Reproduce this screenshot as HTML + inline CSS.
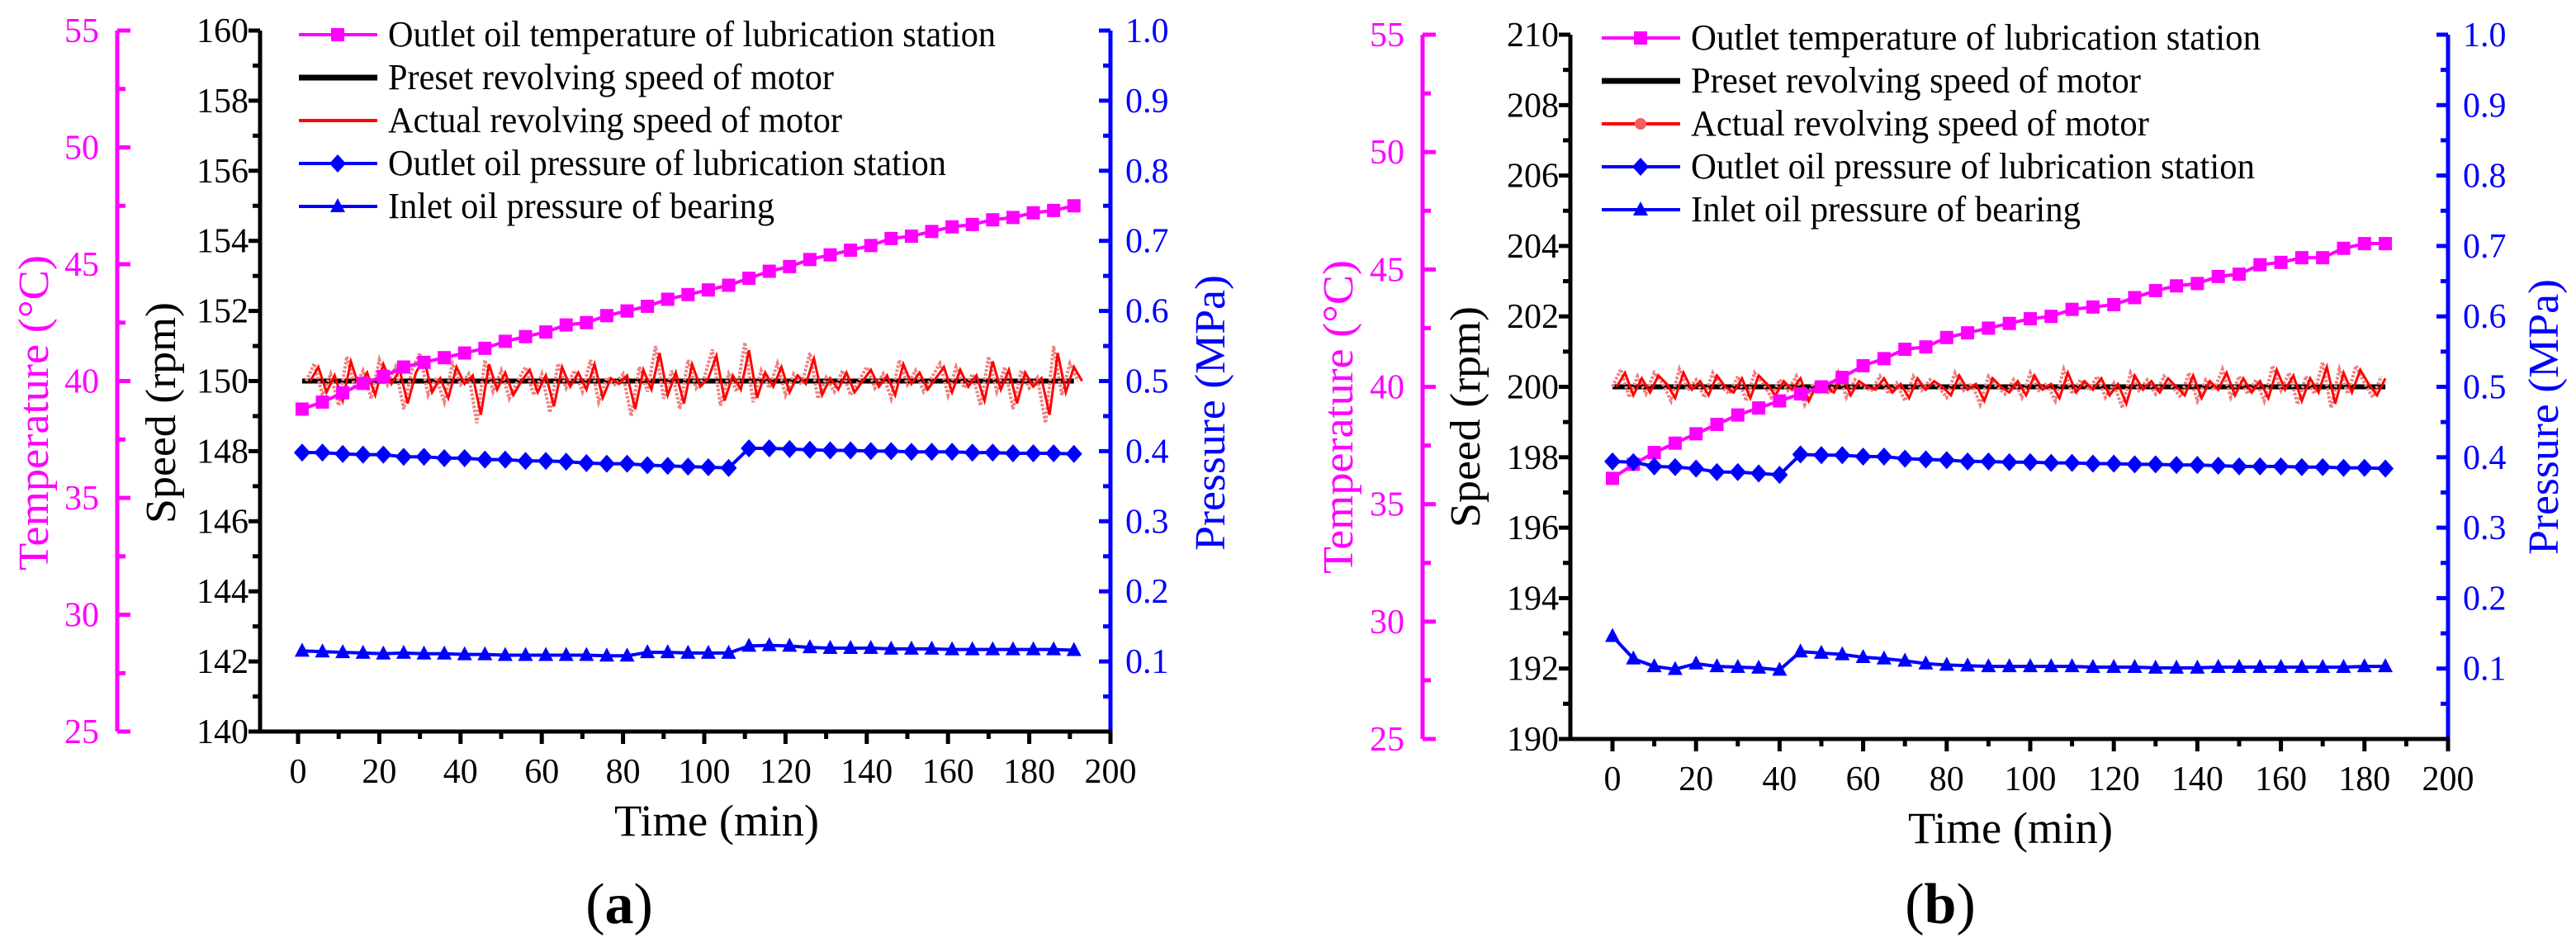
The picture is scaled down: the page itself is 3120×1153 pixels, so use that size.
<!DOCTYPE html>
<html><head><meta charset="utf-8"><style>
html,body{margin:0;padding:0;background:#fff;}
svg, svg text{font-family:"Liberation Serif","Times New Roman",serif;}
</style></head><body>
<svg id="chart" width="3120" height="1148" viewBox="0 0 3120 1148" xmlns="http://www.w3.org/2000/svg" font-family="Liberation Serif, serif"></svg>
<script>
// ---------- Panel (a) data ----------
const timesA = [1,6,11,16,21,26,31,36,41,46,51,56,61,66,71,76,81,86,91,96,101,106,111,116,121,126,131,136,141,146,151,156,161,166,171,176,181,186,191];
const tempA = [38.8,39.1,39.5,39.9,40.2,40.6,40.8,41.0,41.2,41.4,41.7,41.9,42.1,42.4,42.5,42.8,43.0,43.2,43.5,43.7,43.9,44.1,44.4,44.7,44.9,45.2,45.4,45.6,45.8,46.1,46.2,46.4,46.6,46.7,46.9,47.0,47.2,47.3,47.5];
const outA = [0.398,0.398,0.396,0.395,0.395,0.392,0.392,0.390,0.390,0.388,0.388,0.386,0.386,0.385,0.383,0.382,0.382,0.380,0.379,0.378,0.377,0.376,0.404,0.404,0.403,0.402,0.401,0.401,0.400,0.400,0.399,0.399,0.399,0.398,0.398,0.397,0.397,0.397,0.396];
const inA = [0.115,0.114,0.113,0.112,0.111,0.112,0.111,0.111,0.110,0.110,0.109,0.109,0.109,0.109,0.109,0.108,0.108,0.113,0.113,0.112,0.112,0.112,0.122,0.123,0.122,0.120,0.119,0.119,0.119,0.118,0.118,0.118,0.117,0.117,0.117,0.117,0.117,0.117,0.116];
const actA = [150.0,150.5,149.6,150.2,149.3,150.7,149.8,150.3,149.5,150.6,149.9,150.4,149.2,150.3,150.8,149.6,150.1,149.4,150.5,149.9,150.2,148.8,150.6,149.7,150.3,149.5,150.0,150.4,149.6,150.2,149.1,150.5,149.8,150.3,149.7,150.6,149.4,150.1,149.9,150.2,149.0,150.4,149.7,151.0,149.5,150.3,149.2,150.6,149.8,150.1,150.9,149.3,150.2,149.7,151.1,149.4,150.3,149.8,150.5,149.6,150.2,149.9,150.8,149.5,150.1,149.7,150.3,149.6,150.0,150.4,149.8,150.2,149.5,150.6,149.9,150.3,149.7,150.1,150.5,149.6,150.4,149.8,150.2,149.3,150.7,149.7,150.4,149.2,150.3,149.8,150.1,148.8,151.0,149.6,150.5,150.0];
// ---------- Panel (b) data ----------
const timesB = [0,5,10,15,20,25,30,35,40,45,50,55,60,65,70,75,80,85,90,95,100,105,110,115,120,125,130,135,140,145,150,155,160,165,170,175,180,185];
const tempB = [36.1,36.7,37.2,37.6,38.0,38.4,38.8,39.1,39.4,39.7,40.0,40.4,40.9,41.2,41.6,41.7,42.1,42.3,42.5,42.7,42.9,43.0,43.3,43.4,43.5,43.8,44.1,44.3,44.4,44.7,44.8,45.2,45.3,45.5,45.5,45.9,46.1,46.1];
const outB = [0.394,0.393,0.387,0.386,0.384,0.379,0.379,0.377,0.375,0.404,0.403,0.403,0.401,0.401,0.398,0.397,0.396,0.394,0.394,0.393,0.393,0.392,0.392,0.391,0.391,0.390,0.390,0.389,0.389,0.388,0.387,0.387,0.387,0.386,0.386,0.385,0.385,0.384];
const inB = [0.146,0.114,0.103,0.099,0.107,0.103,0.102,0.101,0.098,0.124,0.122,0.120,0.116,0.114,0.111,0.107,0.105,0.104,0.103,0.103,0.103,0.103,0.103,0.102,0.102,0.102,0.101,0.101,0.101,0.102,0.102,0.102,0.102,0.102,0.102,0.102,0.103,0.103];
const actB = [200.0,200.5,199.7,200.3,199.8,200.4,200.1,199.6,200.5,199.9,200.2,199.7,200.4,200.0,199.8,200.3,199.6,200.4,200.1,199.7,200.2,199.9,200.3,199.5,200.1,200.0,199.8,200.4,199.7,200.2,200.0,199.9,200.3,199.8,200.1,199.6,200.3,199.9,200.2,200.0,199.7,200.4,199.9,200.1,199.5,200.3,200.0,199.8,200.2,199.7,200.4,199.9,200.1,199.6,200.5,199.8,200.2,199.9,200.3,199.7,200.1,199.4,200.4,199.9,200.2,199.8,200.3,200.0,199.7,200.4,199.6,200.2,199.9,200.5,199.7,200.3,199.8,200.2,199.6,200.6,199.9,200.4,199.5,200.3,199.8,200.7,199.4,200.5,199.8,200.6,200.1,199.7,200.3];

const NS = "http://www.w3.org/2000/svg";
const svg = document.getElementById('chart');
const FONT = 'Liberation Serif, Times New Roman, serif';
function mk(tag, attrs, parent){ const e=document.createElementNS(NS,tag); for(const k in attrs) e.setAttribute(k,attrs[k]); (parent||svg).appendChild(e); return e; }
function txt(s, attrs, parent){ attrs['font-family']=FONT; const e=mk('text',attrs,parent); e.textContent=s; return e; }
const PINK="#ff00ff", BLUE="#0000ff", RED="#ff0000";

function panel(c){
  const g = mk('g',{});
  
  
  const X = t => c.x0 + (t/200)*(c.xR - c.x0);
  const YS = v => c.bot - (v - c.smin)/(c.smax - c.smin)*(c.bot - c.top);
  const YT = v => c.bot - (v - 25)/30*(c.bot - c.top);
  const YP = v => c.bot - v*(c.bot - c.top);
  const lw = 5;
  const ta = mk('g',{},g);
   
  mk('line',{x1:c.tx,y1:c.top,x2:c.tx,y2:c.bot,stroke:PINK,'stroke-width':lw},ta);
  for(let v=25; v<=55; v+=2.5){ const maj = v%5===0; mk('line',{x1:c.tx,y1:YT(v),x2:c.tx+(maj?16:10),y2:YT(v),stroke:PINK,'stroke-width':lw},ta);
    if(maj) txt(String(v),{x:c.tx-22,y:YT(v)+14,'text-anchor':'end','font-size':42,fill:PINK},ta); }
  const sa = mk('g',{},g);
   
  mk('line',{x1:c.sx,y1:c.top,x2:c.sx,y2:c.bot+2,stroke:'#000','stroke-width':lw},sa);
  for(let v=c.smin; v<=c.smax; v+=1){ const maj=(v-c.smin)%2===0; mk('line',{x1:c.sx,y1:YS(v),x2:c.sx-(maj?14:9),y2:YS(v),stroke:'#000','stroke-width':lw},sa);
    if(maj) txt(String(v),{x:c.sx-14,y:YS(v)+14,'text-anchor':'end','font-size':42,fill:'#000'},sa); }
  const pa = mk('g',{},g);
   
  mk('line',{x1:c.xR,y1:c.top,x2:c.xR,y2:c.bot+2,stroke:BLUE,'stroke-width':lw},pa);
  for(let i=1;i<=20;i++){ const v=i*0.05; const maj=i%2===0; mk('line',{x1:c.xR,y1:YP(v),x2:c.xR-(maj?14:9),y2:YP(v),stroke:BLUE,'stroke-width':lw},pa);
    if(maj) txt((v).toFixed(1),{x:c.xR+18,y:YP(v)+14,'font-size':42,fill:BLUE},pa); }
  const xa = mk('g',{},g);
   
  mk('line',{x1:c.sx-2,y1:c.bot,x2:c.xR+2,y2:c.bot,stroke:'#000','stroke-width':lw},xa);
  for(let t=0;t<=200;t+=10){ const maj=t%20===0; mk('line',{x1:X(t),y1:c.bot,x2:X(t),y2:c.bot+(maj?15:9),stroke:'#000','stroke-width':lw},xa);
    if(maj) txt(String(t),{x:X(t),y:c.bot+62,'text-anchor':'middle','font-size':42},xa); }
  const tt = txt('Time (min)',{x:c.timeX,y:c.bot+126,'text-anchor':'middle','font-size':54,textLength:248,lengthAdjust:'spacingAndGlyphs'},g);
   
  const t1 = txt('Temperature (°C)',{x:0,y:0,'text-anchor':'middle','font-size':52,fill:PINK,textLength:c.tempLen,lengthAdjust:'spacingAndGlyphs',transform:`translate(${c.tempTX},${c.titleY}) rotate(-90)`},g);
   
  const t2 = txt('Speed (rpm)',{x:0,y:0,'text-anchor':'middle','font-size':52,fill:'#000',textLength:268,lengthAdjust:'spacingAndGlyphs',transform:`translate(${c.spdTX},${c.titleY}) rotate(-90)`},g);
   
  const t3 = txt('Pressure (MPa)',{x:0,y:0,'text-anchor':'middle','font-size':52,fill:BLUE,textLength:334,lengthAdjust:'spacingAndGlyphs',transform:`translate(${c.prTX},${c.titleY}) rotate(-90)`},g);
   
  const lab = mk('text',{x:c.labX,y:1118,'text-anchor':'middle','font-size':70,'font-family':FONT},g);
   
  lab.appendChild(document.createTextNode('('));
  const b = mk('tspan',{'font-weight':'bold'},lab); b.textContent=c.letter;
  lab.appendChild(document.createTextNode(')'));

  const pre = mk('line',{x1:X(c.times[0]),y1:YS(c.preset),x2:X(c.times[c.times.length-1]),y2:YS(c.preset),stroke:'#000','stroke-width':6},g);
   
  const pts = c.act.map((v,i)=>`${X(c.actT0+2*i)},${YS(v)}`).join(' ');
  const al = mk('polyline',{points:pts,fill:'none',stroke:'#f08080','stroke-width':4,'stroke-dasharray':'3 2'},g);
   
  const ptsB = c.act.map((v,i)=>`${X(c.actT0+2*i+1)},${YS(c.preset+(v-c.preset)*0.8)}`).join(' ');
  const ad = mk('polyline',{points:ptsB,fill:'none',stroke:RED,'stroke-width':3},g);
   

  function series(vals, yfun, color, marker, name){
    const sg = mk('g',{},g);
     
    mk('polyline',{points:vals.map((v,i)=>`${X(c.times[i])},${yfun(v)}`).join(' '),fill:'none',stroke:color,'stroke-width':4},sg);
    vals.forEach((v,i)=>{ drawMarker(sg,marker,X(c.times[i]),yfun(v),color); });
  }
  series(c.temp, YT, PINK, 'sq', 'temperature-series');
  series(c.out, YP, BLUE, 'dia', 'outlet-pressure-series');
  series(c.inl, YP, BLUE, 'tri', 'inlet-pressure-series');

  const lg = mk('g',{},g);
   
  const items = [
    [c.legTemp, PINK, 'sq'],
    ['Preset revolving speed of motor', '#000', null],
    ['Actual revolving speed of motor', RED, 'red'],
    ['Outlet oil pressure of lubrication station', BLUE, 'dia'],
    ['Inlet oil pressure of bearing', BLUE, 'tri']
  ];
  items.forEach((it,i)=>{
    const y = c.legY + i*52;
    const e = mk('g',{},lg);
     
    mk('line',{x1:c.legX,y1:y,x2:c.legX+95,y2:y,stroke:it[1],'stroke-width':it[1]==='#000'?7:4},e);
    if(it[2] && it[2]!=='red') drawMarker(e,it[2],c.legX+47,y,it[1]);
    if(it[2]==='red' && c.letter==='b') mk('circle',{cx:c.legX+47,cy:y,r:7,fill:'#f06060'},e);
    txt(it[0],{x:c.legX+108,y:y+14,'font-size':44,textLength:c.legW[i],lengthAdjust:'spacingAndGlyphs'},e);
  });
}
function drawMarker(p,m,x,y,color){
  if(m==='sq') mk('rect',{x:x-8,y:y-8,width:16,height:16,fill:color},p);
  else if(m==='dia') mk('polygon',{points:`${x},${y-11} ${x+10},${y} ${x},${y+11} ${x-10},${y}`,fill:color},p);
  else if(m==='tri') mk('polygon',{points:`${x},${y-10} ${x+9},${y+7} ${x-9},${y+7}`,fill:color},p);
}

panel({name:'panel-a',letter:'a',times:timesA,temp:tempA,out:outA,inl:inA,act:actA,actT0:2,preset:150,
  x0:361,xR:1345,sx:315,tx:142,top:37,bot:886,smin:140,smax:160,
  timeX:868,titleY:500,tempTX:58,spdTX:212,prTX:1483,tempLen:382,labX:750,
  legX:362,legY:42,legTemp:'Outlet oil temperature of lubrication station',legW:[736,540,550,676,468]});
panel({name:'panel-b',letter:'b',times:timesB,temp:tempB,out:outB,inl:inB,act:actB,actT0:0,preset:200,
  x0:1953,xR:2965,sx:1902,tx:1723,top:42,bot:895,smin:190,smax:210,
  timeX:2435,titleY:505,tempTX:1638,spdTX:1792,prTX:3098,tempLen:380,labX:2350,
  legX:1940,legY:46,legTemp:'Outlet temperature of lubrication station',legW:[690,545,555,683,472]});
</script>
</body></html>
